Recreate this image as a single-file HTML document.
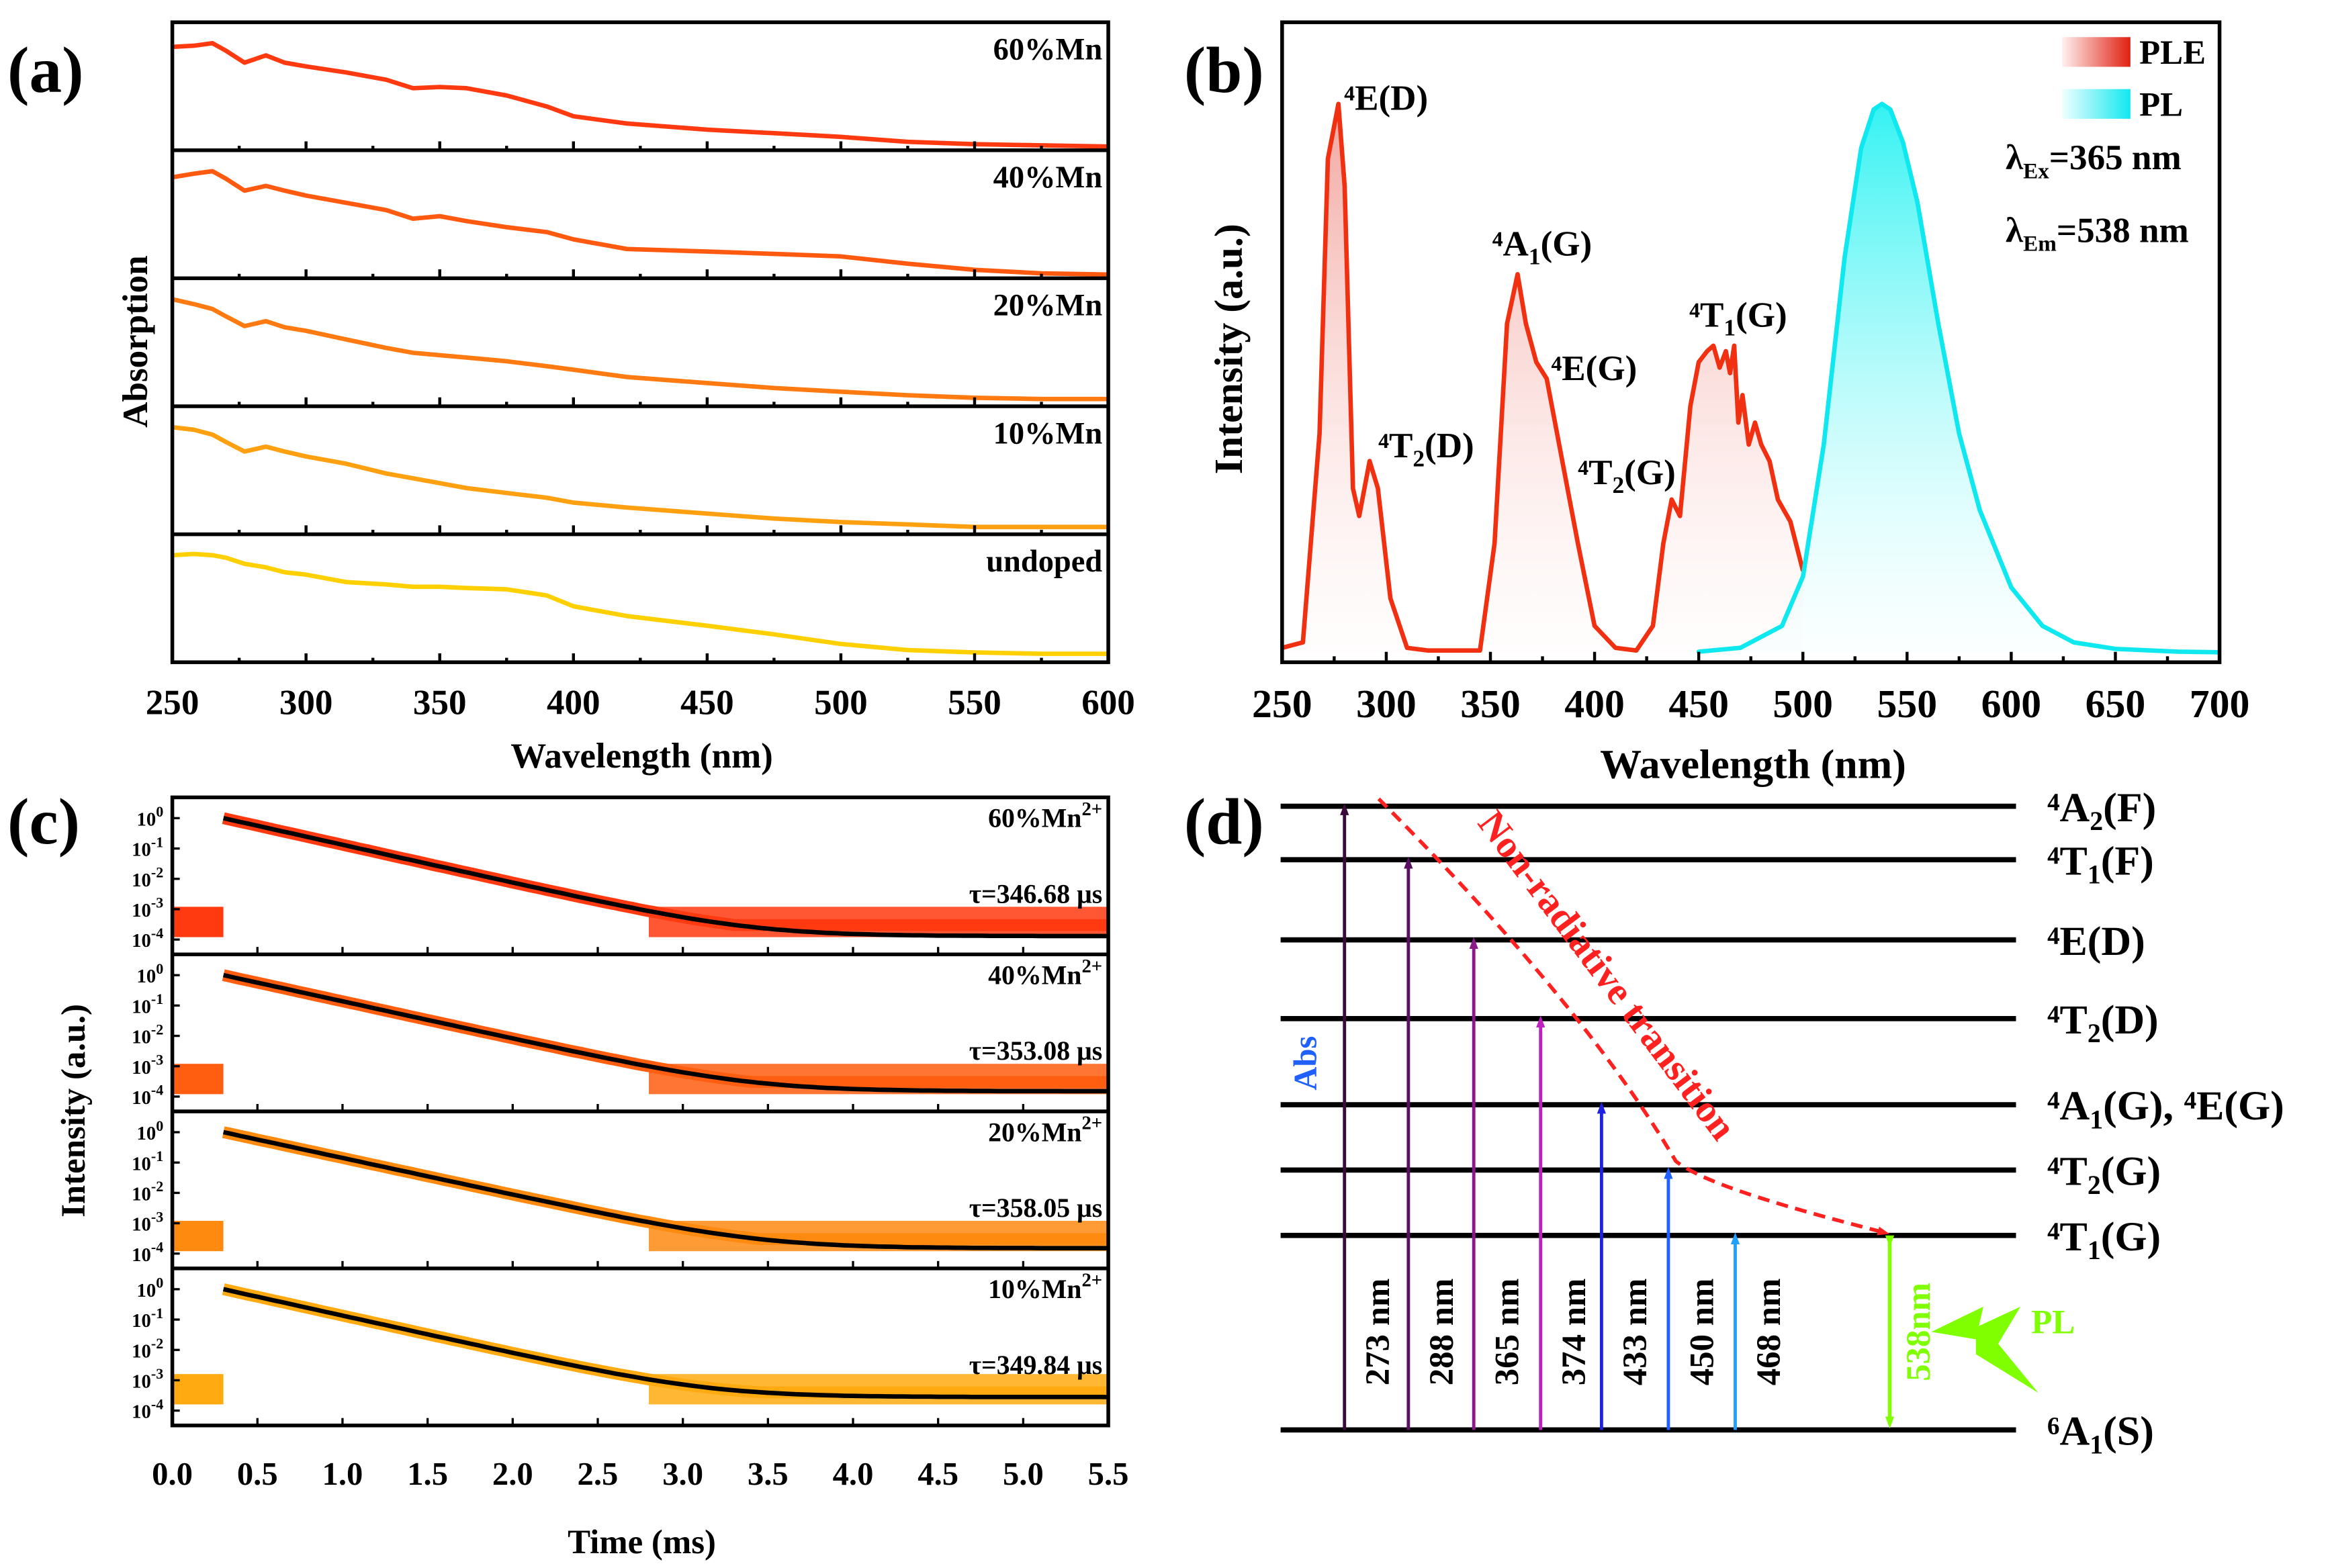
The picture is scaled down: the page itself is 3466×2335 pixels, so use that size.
<!DOCTYPE html>
<html><head><meta charset="utf-8"><style>
html,body{margin:0;padding:0;background:#fff}
svg{display:block;font-family:"Liberation Serif",serif;font-weight:bold}
</style></head><body>
<svg id="fig" width="3466" height="2335" viewBox="0 0 1567 1056" preserveAspectRatio="none" xmlns="http://www.w3.org/2000/svg">
<defs>
<linearGradient id="gPLE" x1="0" y1="0" x2="0" y2="1"><stop offset="0" stop-color="#e02010"/><stop offset="1" stop-color="#fff0f0" stop-opacity="0.3"/></linearGradient>
<linearGradient id="gPL" x1="0" y1="0" x2="0" y2="1"><stop offset="0" stop-color="#10f0f0"/><stop offset="1" stop-color="#f0ffff" stop-opacity="0.3"/></linearGradient>
<linearGradient id="gPLEh" x1="0" y1="0" x2="1" y2="0"><stop offset="0" stop-color="#fff0f0"/><stop offset="1" stop-color="#e02010"/></linearGradient>
<linearGradient id="gPLh" x1="0" y1="0" x2="1" y2="0"><stop offset="0" stop-color="#f0ffff"/><stop offset="1" stop-color="#10e8f0"/></linearGradient>
<marker id="ah" markerWidth="8" markerHeight="8" refX="4" refY="4" orient="auto" markerUnits="userSpaceOnUse"><path d="M0,1 L8,4 L0,7 Z" fill="context-stroke"/></marker>
</defs>
</svg>
<script>
// ---------- Panel (a) data ----------
const absWl=[250,258,265,270,277,285,292,300,315,330,340,350,360,375,390,400,420,450,475,500,525,550,575,600];
const absLabels=["60%Mn","40%Mn","20%Mn","10%Mn","undoped"];
const abs60=[0.85,0.86,0.88,0.82,0.72,0.78,0.72,0.69,0.64,0.58,0.51,0.52,0.51,0.45,0.36,0.28,0.22,0.17,0.14,0.11,0.07,0.05,0.04,0.03];
const abs40=[0.83,0.86,0.88,0.82,0.72,0.76,0.72,0.68,0.62,0.56,0.49,0.51,0.47,0.42,0.38,0.32,0.24,0.22,0.20,0.18,0.12,0.07,0.04,0.03];
const abs20=[0.88,0.84,0.80,0.74,0.66,0.70,0.65,0.62,0.55,0.48,0.44,0.42,0.40,0.37,0.33,0.30,0.24,0.19,0.15,0.12,0.09,0.07,0.06,0.06];
const abs10=[0.88,0.86,0.82,0.76,0.68,0.72,0.68,0.64,0.58,0.50,0.46,0.42,0.38,0.34,0.30,0.26,0.22,0.17,0.13,0.10,0.08,0.06,0.06,0.06];
const absUn=[0.88,0.89,0.88,0.86,0.81,0.78,0.74,0.72,0.66,0.64,0.62,0.62,0.61,0.60,0.55,0.46,0.38,0.30,0.23,0.15,0.10,0.08,0.07,0.07];
const absTicks=[250,300,350,400,450,500,550,600];
// ---------- Panel (b) data ----------
const pleWl=[250,260,268,272,277,280,284,287,292,296,302,310,320,345,352,358,363,367,372,377,382,387,392,400,410,420,428,433,437,441,446,450,454,457,460,463,465,467,469,471,474,477,480,484,488,491,494,500];
const pleVal=[0.01,0.02,0.4,0.9,1.0,0.85,0.3,0.25,0.35,0.3,0.1,0.01,0.005,0.005,0.2,0.6,0.69,0.6,0.53,0.5,0.4,0.3,0.2,0.05,0.01,0.005,0.05,0.2,0.28,0.25,0.45,0.53,0.55,0.56,0.52,0.55,0.51,0.56,0.42,0.47,0.38,0.42,0.38,0.35,0.28,0.26,0.24,0.15];
const plWl=[450,470,490,500,510,520,528,534,538,542,548,555,565,575,585,600,615,630,650,680,700];
const plVal=[0.003,0.01,0.05,0.14,0.38,0.72,0.92,0.99,1.0,0.99,0.93,0.82,0.6,0.4,0.26,0.12,0.05,0.02,0.008,0.003,0.002];
const plTicks=[250,300,350,400,450,500,550,600,650,700];
// ---------- Panel (c) data ----------
const decayLabels=["60%Mn","40%Mn","20%Mn","10%Mn"];
const decayTau=[346.68,353.08,358.05,349.84];
const decayFloor=[1.3e-4,1.5e-4,1.5e-4,2.8e-4];
const noiseFloor=[3e-4,3e-4,3e-4,4e-4];
const decayColors=["#ff3a10","#ff5e10","#ff8a10","#ffaa10"];
const timeTicks=[0,0.5,1,1.5,2,2.5,3,3.5,4,4.5,5,5.5];
const logTicks=[0,-1,-2,-3,-4];
// ---------- Panel (d) data ----------
const levelNames=["<tspan>⁴A</tspan><tspan dy='6' font-size='18'>2</tspan><tspan dy='-6'>(F)</tspan>","⁴T<tspan dy='6' font-size='18'>1</tspan><tspan dy='-6'>(F)</tspan>","⁴E(D)","⁴T<tspan dy='6' font-size='18'>2</tspan><tspan dy='-6'>(D)</tspan>","⁴A<tspan dy='6' font-size='18'>1</tspan><tspan dy='-6'>(G), ⁴E(G)</tspan>","⁴T<tspan dy='6' font-size='18'>2</tspan><tspan dy='-6'>(G)</tspan>","⁴T<tspan dy='6' font-size='18'>1</tspan><tspan dy='-6'>(G)</tspan>","⁶A<tspan dy='6' font-size='18'>1</tspan><tspan dy='-6'>(S)</tspan>"];
const levelY=[543,579,633,686,744,788,832,963];
const excNm=[273,288,365,374,433,450,468];
const excLevel=[0,1,2,3,4,5,6];
const excColors=["#3a0a3a","#5a1060","#8a1a8a","#c020c0","#2020e0","#2060ff","#20a0ff"];

const svg=document.getElementById('fig');
const NS="http://www.w3.org/2000/svg";
function mk(tag,attrs,parent){const e=document.createElementNS(NS,tag);for(const k in attrs)e.setAttribute(k,attrs[k]);(parent||svg).appendChild(e);return e;}
function txt(s,x,y,size,anchor,parent,extra){const e=mk('text',Object.assign({x:x,y:y,'font-size':size,'text-anchor':anchor||'start'},extra||{}),parent);e.innerHTML=s;return e;}

// ===== Panel (a) =====
let t=txt('(a)',5,62,44,'start');


const aX0=116,aX1=746,aTop=15,aBot=446;
const ax=w=>aX0+(w-250)/(600-250)*(aX1-aX0);
const aH=(aBot-aTop)/5;
const absSeries=[abs60,abs40,abs20,abs10,absUn];
const absColors=["#ff3a10","#ff5a10","#ff7a10","#ffa010","#ffd000"];
for(let i=0;i<5;i++){
  const top=aTop+i*aH,bot=top+aH;
  const pts=absWl.map((w,j)=>ax(w).toFixed(1)+','+(bot-absSeries[i][j]*aH*0.95).toFixed(1)).join(' ');
  const pl=mk('polyline',{points:pts,fill:'none',stroke:absColors[i],'stroke-width':3,'stroke-linejoin':'round'});
  
  
  const lb=txt(absLabels[i],742,top+25,21,'end');
  
  
  if(i<4){const ln=mk('line',{x1:aX0,x2:aX1,y1:bot,y2:bot,stroke:'#000','stroke-width':2.5});
    
    }
  absTicks.forEach((w,k)=>{if(k>0&&k<absTicks.length-1)mk('line',{x1:ax(w),x2:ax(w),y1:bot,y2:bot-6,stroke:'#000','stroke-width':2});
    if(w<600)mk('line',{x1:ax(w+25),x2:ax(w+25),y1:bot,y2:bot-3,stroke:'#000','stroke-width':2});});
}
let fr=mk('rect',{x:aX0,y:aTop,width:aX1-aX0,height:aBot-aTop,fill:'none',stroke:'#000','stroke-width':2.5});


absTicks.forEach(w=>{const e=txt(w,ax(w),481,24,'middle');
  
  });
t=txt('Wavelength (nm)',432,517,24,'middle');


t=txt('Absorption',99,230,24,'middle',null,{transform:'rotate(-90 99 230)'});



// ===== Panel (b) =====
t=txt('(b)',797,62,44,'start');


const bX0=863,bX1=1494,bTop=15,bBot=446;
const bx=w=>bX0+(w-250)/(700-250)*(bX1-bX0);
const by=v=>440-v*(440-70);
let d='M'+bx(pleWl[0])+','+by(pleVal[0])+pleWl.map((w,j)=>' L'+bx(w).toFixed(1)+','+by(pleVal[j]).toFixed(1)).join('');
let p=mk('path',{d:d+' L'+bx(500)+',440 L'+bx(250)+',440 Z',fill:'url(#gPLE)',opacity:0.4});


p=mk('path',{d:d,fill:'none',stroke:'#f03010','stroke-width':3,'stroke-linejoin':'round'});


d='M'+bx(plWl[0])+','+by(plVal[0])+plWl.map((w,j)=>' L'+bx(w).toFixed(1)+','+by(plVal[j]).toFixed(1)).join('');
p=mk('path',{d:d+' L'+bx(700)+',440 L'+bx(450)+',440 Z',fill:'url(#gPL)',opacity:0.85});


p=mk('path',{d:d,fill:'none',stroke:'#10e8f0','stroke-width':3,'stroke-linejoin':'round'});


fr=mk('rect',{x:bX0,y:bTop,width:bX1-bX0,height:bBot-bTop,fill:'none',stroke:'#000','stroke-width':2.5});


plTicks.forEach(w=>{mk('line',{x1:bx(w),x2:bx(w),y1:bBot,y2:bBot-7,stroke:'#000','stroke-width':2});
  if(w<700)mk('line',{x1:bx(w+25),x2:bx(w+25),y1:bBot,y2:bBot-4,stroke:'#000','stroke-width':2});
  const e=txt(w,bx(w),483,27,'middle');
  
  });
t=txt('Wavelength (nm)',1180,524,28,'middle');


t=txt('Intensity (a.u.)',836,235,27,'middle',null,{transform:'rotate(-90 836 235)'});


const peakLbl=[["⁴E(D)",933,74],["⁴T<tspan dy='6' font-size='16'>2</tspan><tspan dy='-6'>(D)</tspan>",960,308],["⁴A<tspan dy='6' font-size='16'>1</tspan><tspan dy='-6'>(G)</tspan>",1038,172],["⁴E(G)",1073,256],["⁴T<tspan dy='6' font-size='16'>2</tspan><tspan dy='-6'>(G)</tspan>",1095,326],["⁴T<tspan dy='6' font-size='16'>1</tspan><tspan dy='-6'>(G)</tspan>",1170,220]];
peakLbl.forEach(a=>{const e=txt(a[0],a[1],a[2],24,'middle');
  
  });
let r=mk('rect',{x:1388,y:25,width:46,height:20,fill:'url(#gPLEh)'});


r=mk('rect',{x:1388,y:60,width:46,height:20,fill:'url(#gPLh)'});


t=txt('PLE',1440,43,23,'start');


t=txt('PL',1440,78,23,'start');


t=txt("λ<tspan dy='6' font-size='15'>Ex</tspan><tspan dy='-6'>=365 nm</tspan>",1350,114,24,'start');


t=txt("λ<tspan dy='6' font-size='15'>Em</tspan><tspan dy='-6'>=538 nm</tspan>",1350,163,24,'start');



// ===== Panel (c) =====
t=txt('(c)',5,568,44,'start');


const cX0=116,cX1=746,cTop=537,cBot=960;
const cx=tm=>cX0+tm/5.5*(cX1-cX0);
const cH=(cBot-cTop)/4;
for(let i=0;i<4;i++){
  const top=cTop+i*cH,bot=top+cH;
  const y0=top+14,y4=bot-10;
  const cy=v=>y0+(-Math.log10(v))/4*(y4-y0);
  const tau=decayTau[i]/1000;
  const times=[];for(let k=0;k<=104;k++)times.push(0.3+k*0.05);
  const fit=times.map(tm=>Math.exp(-(tm-0.3)/tau)+decayFloor[i]);
  const band=times.map((tm,k)=>cx(tm).toFixed(1)+','+cy(Math.max(fit[k],noiseFloor[i])).toFixed(1)).join(' ');
  let b=mk('polyline',{points:band,fill:'none',stroke:decayColors[i],'stroke-width':8,'stroke-linejoin':'round'});
  
  
  let fl=mk('rect',{x:cx(2.8),y:cy(noiseFloor[i]*4),width:cx(5.5)-cx(2.8),height:cy(noiseFloor[i]/2.5)-cy(noiseFloor[i]*4),fill:decayColors[i],opacity:0.85});
  
  
  let pre=mk('rect',{x:cx(0),y:cy(noiseFloor[i]*4),width:cx(0.3)-cx(0),height:cy(noiseFloor[i]/2.5)-cy(noiseFloor[i]*4),fill:decayColors[i]});
  
  
  let f=mk('polyline',{points:times.map((tm,k)=>cx(tm).toFixed(1)+','+cy(fit[k]).toFixed(1)).join(' '),fill:'none',stroke:'#000','stroke-width':3});
  
  
  logTicks.forEach(e=>{const yy=cy(Math.pow(10,e));
    mk('line',{x1:cX0,x2:cX0+5,y1:yy,y2:yy,stroke:'#000','stroke-width':1.5});
    const l=txt("10<tspan dy='-6' font-size='10'>"+e+"</tspan>",cX0-6,yy+5,13,'end');
    
    });
  let lb=txt(decayLabels[i]+"<tspan dy='-8' font-size='13'>2+</tspan>",742,top+20,18,'end');
  
  
  lb=txt('τ='+decayTau[i].toFixed(2)+' μs',742,top+71,18,'end');
  
  
  if(i<3){const ln=mk('line',{x1:cX0,x2:cX1,y1:bot,y2:bot,stroke:'#000','stroke-width':2.5});
    
    }
  timeTicks.forEach(tm=>mk('line',{x1:cx(tm),x2:cx(tm),y1:bot,y2:bot-5,stroke:'#000','stroke-width':1.5}));
}
fr=mk('rect',{x:cX0,y:cTop,width:cX1-cX0,height:cBot-cTop,fill:'none',stroke:'#000','stroke-width':2.5});


timeTicks.forEach(tm=>{const e=txt(tm.toFixed(1),cx(tm),1000,22,'middle');
  
  });
t=txt('Time (ms)',432,1046,23,'middle');


t=txt('Intensity (a.u.)',57,748,23,'middle',null,{transform:'rotate(-90 57 748)'});



// ===== Panel (d) =====
t=txt('(d)',797,568,44,'start');


levelY.forEach((yy,i)=>{const l=mk('line',{x1:862,x2:1357,y1:yy,y2:yy,stroke:'#000','stroke-width':3.5});
  
  
  const e=txt(levelNames[i],1378,yy+10,28,'start');
  
  });
const excX=[905,948,992,1037,1078,1123,1168];
excNm.forEach((nm,i)=>{const x=excX[i];
  const a=mk('line',{x1:x,x2:x,y1:963,y2:levelY[excLevel[i]]+2,stroke:excColors[i],'stroke-width':2.2,'marker-end':'url(#ah)'});
  
  
  const e=txt(nm+' nm',x+30,897,23,'middle',null,{transform:'rotate(-90 '+(x+30)+' 897)'});
  
  });
let g=mk('line',{x1:1272,x2:1272,y1:836,y2:958,stroke:'#80ff00','stroke-width':2.5,'marker-end':'url(#ah)','marker-start':'url(#ah)'});


t=txt('538nm',1299,897,23,'middle',null,{transform:'rotate(-90 1299 897)',fill:'#80ff00'});


let lt=mk('path',{d:'M1300,897 L1335,880 L1332,893 L1360,880 L1345,905 L1372,938 L1330,912 L1330,902 Z',fill:'#80ff00'});


t=txt('PL',1382,898,23,'middle',null,{fill:'#80ff00'});


t=txt('Abs',886,716,22,'middle',null,{transform:'rotate(-90 886 716)',fill:'#2060ff'});


let nr=mk('path',{d:'M928,538 C1000,610 1080,700 1128,782 C1150,800 1230,820 1268,830',fill:'none',stroke:'#ff2020','stroke-width':2.5,'stroke-dasharray':'8,5','marker-end':'url(#ah)'});


t=txt('Non-radiative transition',1075,662,26,'middle',null,{transform:'rotate(53 1075 662)',fill:'#ff2020'});


</script>
</body></html>
